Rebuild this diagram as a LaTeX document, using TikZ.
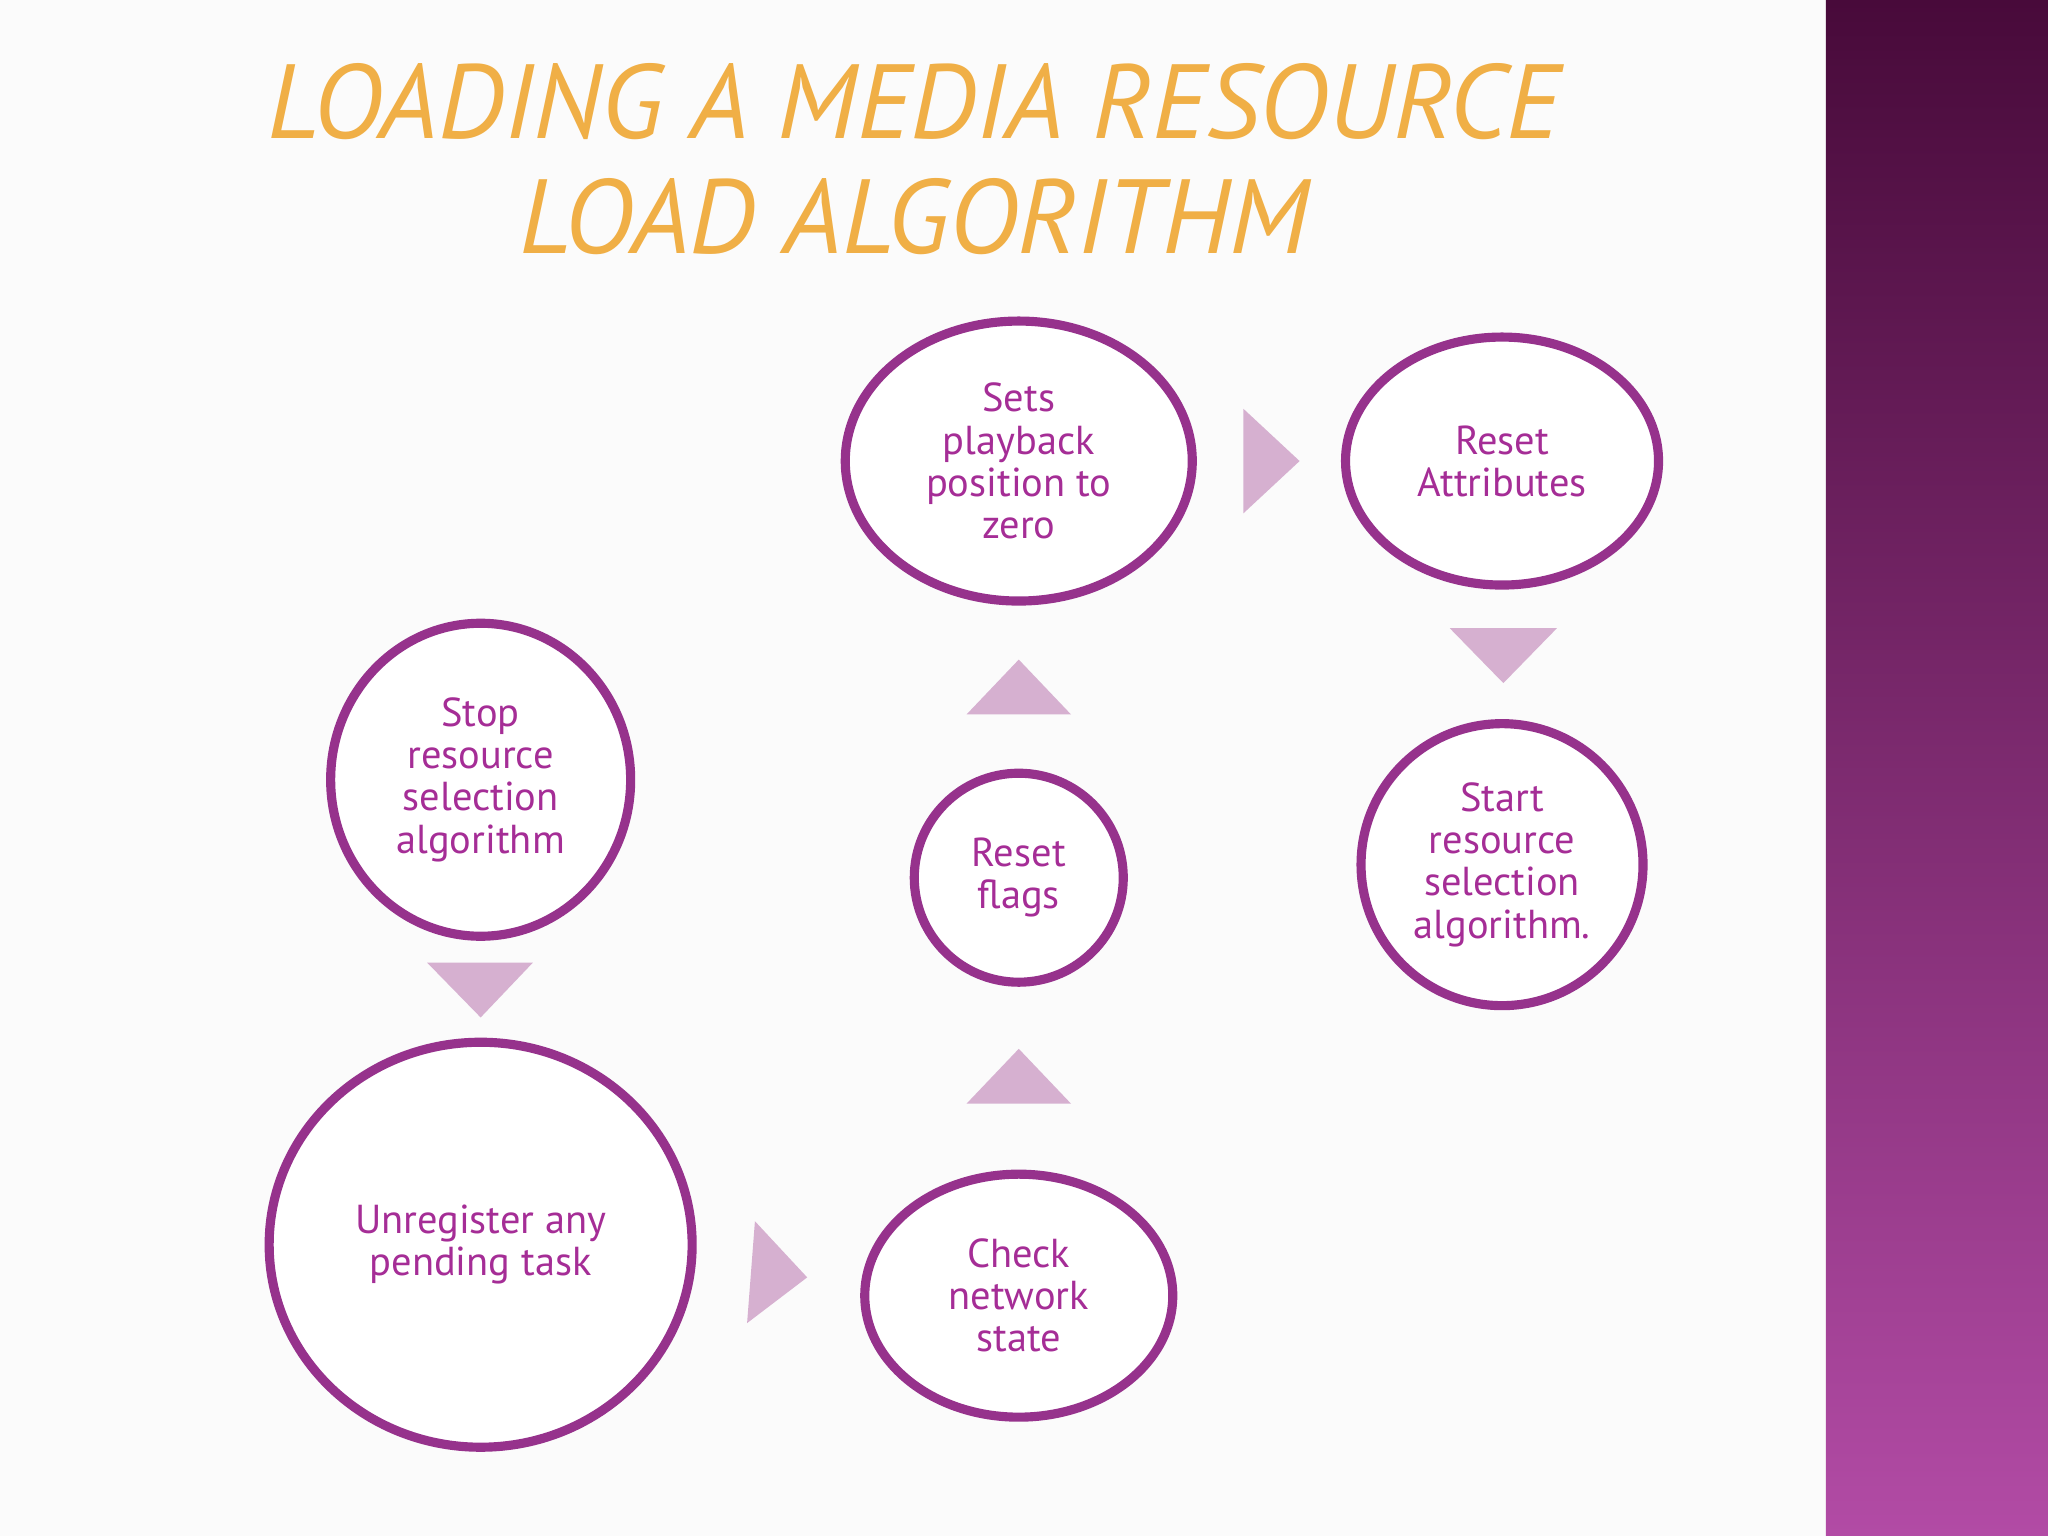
\documentclass[tikz,border=0pt]{standalone}
\usepackage{fontspec}
\setmainfont{PT Sans}
\usetikzlibrary{shapes.geometric}
\definecolor{plum}{RGB}{150,50,140}
\definecolor{plumtext}{RGB}{165,45,150}
\definecolor{arrowpink}{RGB}{214,176,208}
\definecolor{banddark}{RGB}{72,10,58}
\definecolor{bandlight}{RGB}{178,75,165}
\definecolor{titleorange}{RGB}{240,175,70}
\begin{document}
\begin{tikzpicture}[x=0.013061cm,y=-0.013061cm,
    step/.style={ellipse,draw=plum,line width=2.6pt,fill=white,
        minimum width=#1,align=center,text=plumtext,
        font=\fontsize{11.5}{12}\selectfont,inner sep=0pt},
    tri/.style={fill=arrowpink,draw=none},
    ttl/.style={text=titleorange,font=\fontsize{30}{34}\selectfont\itshape}
]
\useasboundingbox (0,0) rectangle (1568,1176);
\fill[white!97!gray] (0,0) rectangle (1398,1176);
\shade[top color=banddark,bottom color=bandlight] (1398,0) rectangle (1568,1176);

\node[ttl] (t1) at (700,78) {LOADING A MEDIA RESOURCE};
\node[ttl] (t2) at (700,166) {LOAD ALGORITHM};

\node[step=3.47cm,minimum height=2.8cm] (sets) at (780,353) {Sets\\playback\\position to\\zero};
\node[step=3.13cm,minimum height=2.48cm] (attr) at (1150,353) {Reset\\Attributes};
\node[step=3.0cm,minimum height=3.13cm] (stop) at (368,597) {Stop\\resource\\selection\\algorithm};
\node[step=2.09cm,minimum height=2.09cm] (flags) at (780,672) {Reset\\flags};
\node[step=2.82cm,minimum height=2.82cm] (start) at (1150,662) {Start\\resource\\selection\\algorithm.};
\node[step=4.23cm,minimum height=4.05cm] (unreg) at (368,953) {Unregister any\\pending task};
\node[step=3.08cm,minimum height=2.43cm] (check) at (780,992) {Check\\network\\state};

\fill[tri] (952,313) -- (995,353) -- (952,393) -- cycle;
\fill[tri] (1110,481) -- (1192,481) -- (1151,523) -- cycle;
\fill[tri] (740,547) -- (820,547) -- (780,505) -- cycle;
\fill[tri] (740,845) -- (820,845) -- (780,803) -- cycle;
\fill[tri] (327,737) -- (408,737) -- (368,779) -- cycle;
\fill[tri] (578,935) -- (618,978) -- (572,1013) -- cycle;
\end{tikzpicture}
\end{document}
